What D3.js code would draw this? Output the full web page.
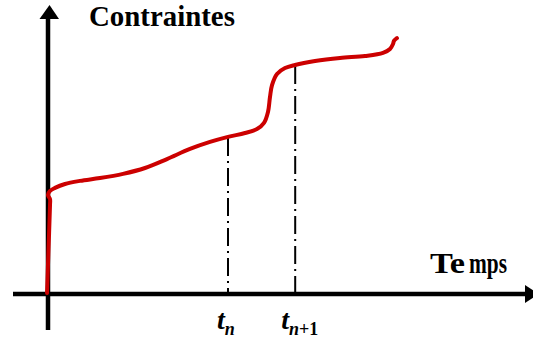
<!DOCTYPE html>
<html>
<head>
<meta charset="utf-8">
<script src="https://cdn.jsdelivr.net/npm/d3@7"></script>
<style>
  html, body { margin: 0; padding: 0; background: #fff; }
  svg { display: block; }
  .serif { font-family: "Liberation Serif", "Times New Roman", serif; }
</style>
</head>
<body>
<svg id="chart" width="533" height="345"></svg>
<script>
// Stress response over time: time (t) and stress (s) on arbitrary 0–100 scales
const curveTime = [-0.2, 0.1, 0.42, 0.42, 0, 0.42, 1.46, 3.54, 6.67, 10.83, 15.63, 20.21, 24.79, 29.58, 33.75, 37.5,
  41.04, 43.54, 45, 45.83, 46.25, 46.67, 47.71, 49.38, 51.46, 55.63, 60.83, 66.04, 69.79, 71.25, 71.88, 72.08, 72.7];
const curveStress = [0.4, 15.7, 31.8, 33.9, 35.4, 36.8, 37.9, 39.3, 40.4, 41.4, 42.9, 45, 48.2, 51.8, 54.3, 56.1,
  57.5, 58.9, 61.1, 65, 70.4, 74.6, 78.6, 80.7, 81.8, 83.2, 84.3, 85, 86.1, 87.5, 89.3, 90.4, 91.4];

// Marked instants and their labels (base letter + subscript)
const markTimes = [37.5, 51.5];
const markBase = ["t", "t"];
const markSub = ["n", "n+1"];

const axisTitles = { y: "Contraintes", x: "Temps" };

const svg = d3.select("#chart");
svg.append("rect").attr("width", 533).attr("height", 345).attr("fill", "#fff");

const x = d3.scaleLinear().domain([0, 100]).range([48, 528]);
const y = d3.scaleLinear().domain([0, 100]).range([294, 14]);

const x0 = x(0), y0 = y(0);

// Axes with arrowheads
svg.append("line")
  .attr("x1", 13).attr("x2", 526).attr("y1", y0).attr("y2", y0)
  .attr("stroke", "#000").attr("stroke-width", 4.5);
svg.append("path")
  .attr("d", `M525,${y0 - 9}L539,${y0}L525,${y0 + 9}Z`)
  .attr("fill", "#000");

svg.append("line")
  .attr("x1", x0).attr("x2", x0).attr("y1", 330).attr("y2", 18)
  .attr("stroke", "#000").attr("stroke-width", 4.5);
svg.append("path")
  .attr("d", `M${x0 - 8.5},19L${x0 + 1.5},5L${x0 + 11},19Z`)
  .attr("fill", "#000");

// Interpolate the curve at a given time (along the main rising branch)
function stressAt(t) {
  for (let i = 6; i < curveTime.length - 1; i++) {
    if (t >= curveTime[i] && t <= curveTime[i + 1]) {
      const f = (t - curveTime[i]) / (curveTime[i + 1] - curveTime[i]);
      return curveStress[i] + f * (curveStress[i + 1] - curveStress[i]);
    }
  }
  return 0;
}

// Dash-dot drop lines at the marked instants
svg.selectAll("line.mark")
  .data(markTimes)
  .join("line")
  .attr("class", "mark")
  .attr("x1", d => x(d)).attr("x2", d => x(d))
  .attr("y1", d => y(stressAt(d)) + 1)
  .attr("y2", y0)
  .attr("stroke", "#000")
  .attr("stroke-width", 2)
  .attr("stroke-dasharray", "18,5,2,5");

// Stress curve
const pts = curveTime.map((t, i) => [x(t), y(curveStress[i])]);
svg.append("path")
  .attr("d", d3.line().curve(d3.curveCatmullRom.alpha(0.5))(pts))
  .attr("fill", "none")
  .attr("stroke", "#cc0000")
  .attr("stroke-width", 4)
  .attr("stroke-linecap", "round")
  .attr("stroke-linejoin", "round");

// Instant labels
const labelOffsets = [-11, -14];
markTimes.forEach((t, i) => {
  const txt = svg.append("text")
    .attr("class", "serif")
    .attr("x", x(t) + labelOffsets[i])
    .attr("y", 329)
    .attr("fill", "#000");
  txt.append("tspan")
    .attr("font-size", 28).attr("font-style", "italic").attr("font-weight", "bold")
    .text(markBase[i]);
  const sub = markSub[i];
  const m = sub.match(/^([a-z]+)(.*)$/);
  txt.append("tspan")
    .attr("font-size", 18).attr("font-style", "italic").attr("font-weight", "bold")
    .attr("dy", 6)
    .text(m[1]);
  if (m[2]) {
    txt.append("tspan")
      .attr("font-size", 18).attr("font-weight", "bold")
      .text(m[2]);
  }
});

// Text squeezed horizontally to a target width, glyph heights untouched
function fittedText(str, left, baseline, width, size) {
  const t = svg.append("text")
    .attr("class", "serif")
    .attr("font-weight", "bold").attr("font-size", size)
    .text(str);
  const natural = t.node().getComputedTextLength();
  t.attr("transform", `translate(${left},${baseline}) scale(${width / natural},1)`);
  return t;
}

// Axis titles
fittedText(axisTitles.y, 89, 26, 146, 29);
fittedText(axisTitles.x.slice(0, 2), 430, 273, 35, 29);
fittedText(axisTitles.x.slice(2), 469, 273, 38, 29);
</script>
</body>
</html>
